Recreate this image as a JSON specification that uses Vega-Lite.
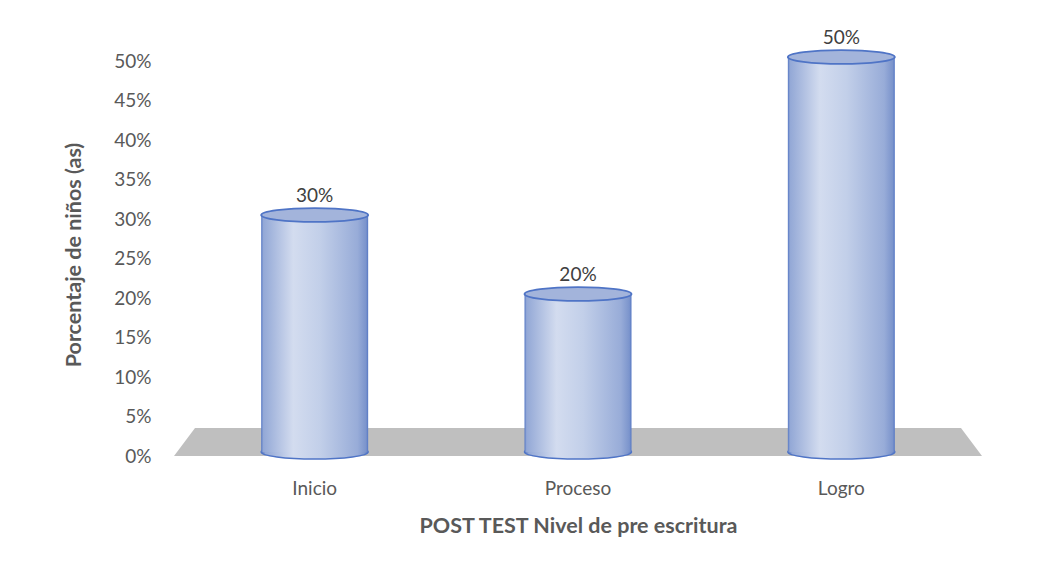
{
  "$schema": "https://vega.github.io/schema/vega-lite/v6.json",
  "autosize": {"type": "none"},
  "padding": {"left": 183, "top": 57, "right": 66, "bottom": 123},
  "width": 790,
  "height": 395,
  "background": "white",
  "data": {"values": [
    {"nivel": "Inicio", "pct": 0.3},
    {"nivel": "Proceso", "pct": 0.2},
    {"nivel": "Logro", "pct": 0.5}
  ]},
  "encoding": {
    "x": {
      "field": "nivel", "type": "nominal", "sort": null,
      "scale": {"domain": ["Inicio", "Proceso", "Logro"], "paddingInner": 0, "paddingOuter": 0},
      "axis": {
        "title": "POST TEST Nivel de pre escritura",
        "labelAngle": 0, "ticks": false, "domain": false, "grid": false,
        "labelPadding": 27, "titlePadding": 17
      }
    },
    "y": {
      "field": "pct", "type": "quantitative",
      "scale": {"domain": [0, 0.5], "nice": false},
      "axis": {
        "title": "Porcentaje de niños (as)",
        "format": ".0%",
        "values": [0, 0.05, 0.1, 0.15, 0.2, 0.25, 0.3, 0.35, 0.4, 0.45, 0.5],
        "ticks": false, "domain": false, "grid": false,
        "labelPadding": 32, "labelOffset": 4, "titlePadding": 28
      }
    }
  },
  "layer": [
    {
      "transform": [{"filter": "datum.nivel == 'Proceso'"}],
      "mark": {
        "type": "point", "filled": true, "opacity": 1,
        "shape": "M -1 0 L 1 0 L 0.948 -0.0693 L -0.948 -0.0693 Z",
        "size": 652864, "color": "#bfbfbf", "strokeWidth": 0, "yOffset": 4
      },
      "encoding": {"y": {"datum": 0}}
    },
    {
      "mark": {
        "type": "point", "filled": true, "opacity": 1,
        "shape": "M -1 0 A 1 0.13 0 1 1 1 0 A 1 0.13 0 1 1 -1 0 Z",
        "size": 11449,
        "fill": {"gradient": "linear", "x1": 0, "y1": 0, "x2": 1, "y2": 0, "stops": [
          {"offset": 0, "color": "#5577c4"},
          {"offset": 0.04, "color": "#93a8d6"},
          {"offset": 0.3, "color": "#d3dcef"},
          {"offset": 0.55, "color": "#c2cfe9"},
          {"offset": 0.9, "color": "#98acd8"},
          {"offset": 0.97, "color": "#7b94cc"},
          {"offset": 1, "color": "#5577c4"}
        ]},
        "stroke": "#4f74c6", "strokeWidth": 1.5
      },
      "encoding": {"y": {"datum": 0}}
    },
    {
      "mark": {
        "type": "bar", "size": 107,
        "fill": {"gradient": "linear", "x1": 0, "y1": 0, "x2": 1, "y2": 0, "stops": [
          {"offset": 0, "color": "#5577c4"},
          {"offset": 0.02, "color": "#93a8d6"},
          {"offset": 0.3, "color": "#d3dcef"},
          {"offset": 0.55, "color": "#c2cfe9"},
          {"offset": 0.9, "color": "#98acd8"},
          {"offset": 0.98, "color": "#7b94cc"},
          {"offset": 1, "color": "#5577c4"}
        ]},
        "strokeWidth": 0
      }
    },
    {
      "mark": {
        "type": "point", "filled": true, "opacity": 1,
        "shape": "M -1 0 A 1 0.13 0 1 1 1 0 A 1 0.13 0 1 1 -1 0 Z",
        "size": 11449, "fill": "#a3b4db",
        "stroke": "#4f74c6", "strokeWidth": 1.8
      }
    },
    {
      "mark": {
        "type": "text", "baseline": "alphabetic", "dy": -13,
        "font": "Lato", "fontSize": 19, "color": "#404040"
      },
      "encoding": {"text": {"field": "pct", "type": "quantitative", "format": ".0%"}}
    }
  ],
  "config": {
    "view": {"stroke": null},
    "axis": {
      "labelFont": "Lato", "labelFontSize": 19, "labelColor": "#595959",
      "titleFont": "Lato", "titleFontSize": 21.5, "titleFontWeight": "bold", "titleColor": "#595959"
    }
  }
}
